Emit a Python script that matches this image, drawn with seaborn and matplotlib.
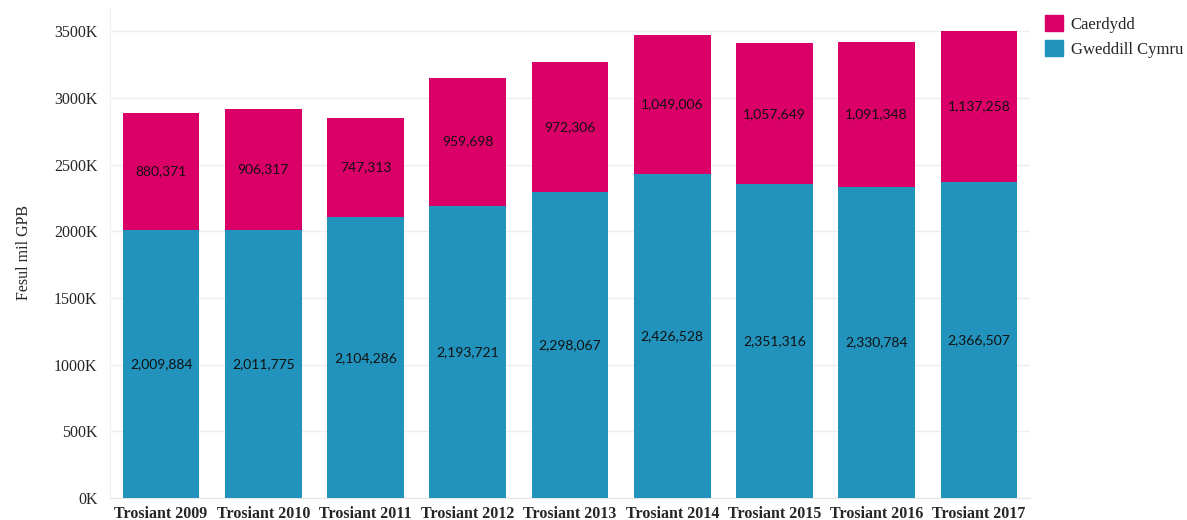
import matplotlib
matplotlib.use("Agg")
import matplotlib.pyplot as plt
import pandas as pd
import seaborn as sns
from matplotlib.patches import Patch

years = ["Trosiant 2009", "Trosiant 2010", "Trosiant 2011", "Trosiant 2012", "Trosiant 2013",
         "Trosiant 2014", "Trosiant 2015", "Trosiant 2016", "Trosiant 2017"]
gweddill = [2009884, 2011775, 2104286, 2193721, 2298067, 2426528, 2351316, 2330784, 2366507]
caerdydd = [880371, 906317, 747313, 959698, 972306, 1049006, 1057649, 1091348, 1137258]
yticks = [0, 500000, 1000000, 1500000, 2000000, 2500000, 3000000, 3500000]

pink = "#DB0068"
blue = "#2193BC"

df = pd.DataFrame({"year": years, "Gweddill Cymru": gweddill, "Caerdydd": caerdydd})
df["total"] = df["Gweddill Cymru"] + df["Caerdydd"]

sns.set_style("white")
plt.rcParams["font.family"] = ["Liberation Serif", "DejaVu Serif"]

fig = plt.figure(figsize=(11.87, 5.2), dpi=100)
ax = fig.add_axes([110 / 1187, 22 / 520, 920 / 1187, 490 / 520])

sns.barplot(data=df, x="year", y="total", color=pink, width=0.75, saturation=1, ax=ax,
            linewidth=0, zorder=2)
sns.barplot(data=df, x="year", y="Gweddill Cymru", color=blue, width=0.75, saturation=1, ax=ax,
            linewidth=0, zorder=3)

for i, row in df.iterrows():
    ax.text(i, row["Gweddill Cymru"] / 2, f"{row['Gweddill Cymru']:,}", ha="center", va="center",
            fontsize=10, family="Lato", color="#111111", zorder=4)
    ax.text(i, row["Gweddill Cymru"] + row["Caerdydd"] / 2, f"{row['Caerdydd']:,}", ha="center",
            va="center", fontsize=10, family="Lato", color="#111111", zorder=4)

ax.set_ylim(0, 3675000)
ax.set_xlim(-0.5, len(years) - 0.5)
ax.set_yticks(yticks)
ax.set_yticklabels([f"{v // 1000}K" for v in yticks])
ax.yaxis.grid(True, color="#eeeeee", linewidth=1, zorder=0)
ax.set_axisbelow(True)
ax.tick_params(axis="y", length=0, labelsize=11.5, pad=9)
ax.tick_params(axis="x", length=0, labelsize=11.5, pad=6)
for lab in ax.get_xticklabels():
    lab.set_fontweight("bold")
ax.set_xlabel("")
ax.set_ylabel("Fesul mil GPB", fontsize=11.5, labelpad=16)
for s in ["top", "right"]:
    ax.spines[s].set_visible(False)
ax.spines["left"].set_color("#f0f0f0")
ax.spines["bottom"].set_color("#e6e6e6")

handles = [Patch(color=pink, label="Caerdydd"), Patch(color=blue, label="Gweddill Cymru")]
fig.legend(handles=handles, loc="upper left", bbox_to_anchor=(1030 / 1187, 1.0), frameon=False,
           fontsize=12, handlelength=1.1, handleheight=1.1, handletextpad=0.45, labelspacing=0.45)

fig.savefig("out.png", dpi=100)
